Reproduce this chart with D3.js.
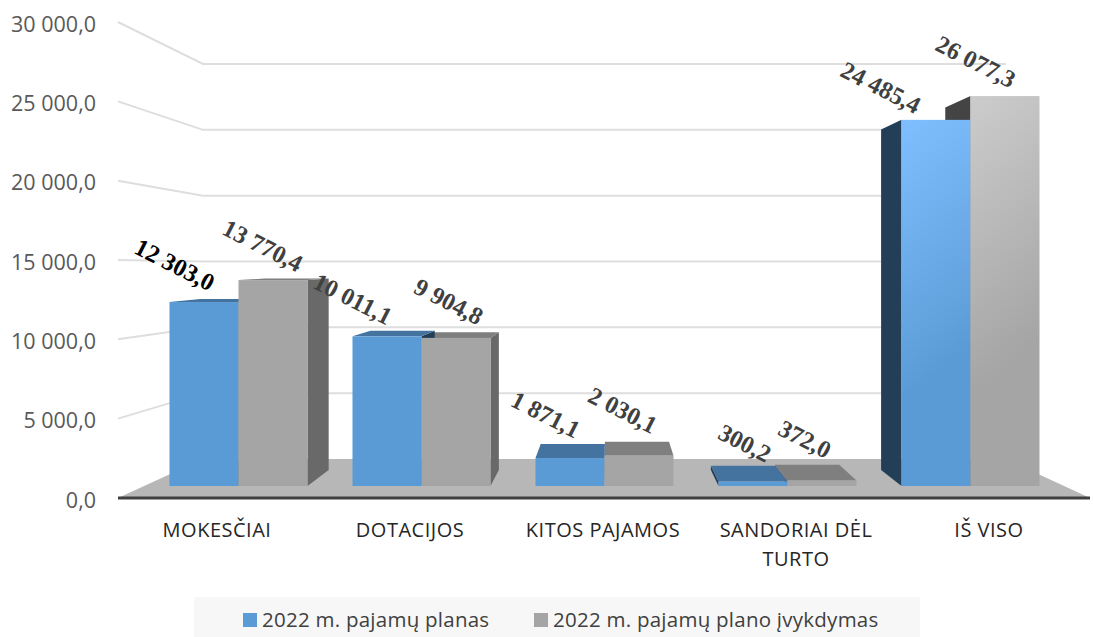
<!DOCTYPE html>
<html lang="en">
<head>
  <meta charset="UTF-8">
  <title>2022 m. pajamos</title>
  <script src="https://d3js.org/d3.v7.min.js"></script>
  <style>
    body { margin: 0; background: #fff; }
    svg { display: block; }
    text { font-family: "Open Sans", sans-serif; }
    .tick-label { font-size: 21.5px; fill: #595959; text-anchor: end; }
    .cat-label { font-size: 20px; letter-spacing: 0.5px; fill: #262626; text-anchor: middle; }
    .value-label { font-family: "Liberation Serif", serif; font-weight: bold; font-size: 24.5px; fill: #404040; text-anchor: middle; }
    .legend-label { font-size: 20.5px; letter-spacing: 0.25px; fill: #404040; }
  </style>
</head>
<body>
  <svg width="1094" height="637"></svg>

  <script>
    const categories = ["MOKESČIAI", "DOTACIJOS", "KITOS PAJAMOS", "SANDORIAI DĖL TURTO", "IŠ VISO"];
    const planValues = [12303.0, 10011.1, 1871.1, 300.2, 24485.4];
    const actualValues = [13770.4, 9904.8, 2030.1, 372.0, 26077.3];
    const planLabels = ["12 303,0", "10 011,1", "1 871,1", "300,2", "24 485,4"];
    const actualLabels = ["13 770,4", "9 904,8", "2 030,1", "372,0", "26 077,3"];
    const yTicks = [0, 5000, 10000, 15000, 20000, 25000, 30000];
    const yTickLabels = ["0,0", "5 000,0", "10 000,0", "15 000,0", "20 000,0", "25 000,0", "30 000,0"];
    const seriesNames = ["2022 m. pajamų planas", "2022 m. pajamų plano įvykdymas"];

    const svg = d3.select("svg");

    // three planes of the fake 3d box: front edge, bar faces, back wall
    const yFront = d3.scaleLinear().domain([0, 30000]).range([498, 22]);
    const yBar = d3.scaleLinear().domain([0, 30000]).range([486, 37.4]);
    const yBack = d3.scaleLinear().domain([0, 30000]).range([459, 64]);

    const xLabel = d3.scaleBand().domain(categories).range([120.5, 1085.5]);
    const xBar = d3.scaleBand().domain(categories).range([147, 1062]);
    const barW = 69;

    // bar depth: back face is the front face shrunk towards this point
    const vpX = 610, vpY = 258, depth = 0.93;
    const backPt = (x, y) => [vpX + depth * (x - vpX), vpY + depth * (y - vpY)];

    const defs = svg.append("defs");
    function gradient(id, from, to) {
      const g = defs.append("linearGradient").attr("id", id)
        .attr("x1", 0).attr("y1", 0).attr("x2", 0.15).attr("y2", 1);
      g.append("stop").attr("offset", "0%").attr("stop-color", from);
      g.append("stop").attr("offset", "75%").attr("stop-color", to);
    }
    gradient("blueHi", "#80bfff", "#5b9bd5");
    gradient("greyHi", "#cccccc", "#a5a5a5");

    // walls
    const wallL = 118, wallB = 203, wallR = 1006, floorR = 1090;
    const grid = svg.append("g").attr("fill", "none").attr("stroke", "#dedede").attr("stroke-width", 2);
    yTicks.filter(t => t > 0).forEach(t => {
      grid.append("path").attr("d", d3.line()([[wallL, yFront(t)], [wallB, yBack(t)], [wallR, yBack(t)]]));
    });

    svg.append("path")
      .attr("d", d3.line()([[wallL, yFront(0)], [wallB, yBack(0)], [wallR, yBack(0)], [floorR, yFront(0)]]) + "Z")
      .attr("fill", "#b7b7b7");
    svg.append("line")
      .attr("x1", wallL).attr("x2", floorR)
      .attr("y1", yFront(0)).attr("y2", yFront(0))
      .attr("stroke", "#404040").attr("stroke-width", 3);

    yTicks.forEach((t, i) => {
      svg.append("text").attr("class", "tick-label")
        .attr("x", 96).attr("y", yFront(t) + 9.5)
        .text(yTickLabels[i]);
    });

    const poly = (pts, fill) => svg.append("path").attr("d", d3.line()(pts) + "Z").attr("fill", fill);

    function drawDepth(x, value, topCol, sideCol) {
      const y = yBar(value), y0 = yBar(0), r = x + barW;
      if (r < vpX) poly([[r, y], [r, y0], backPt(r, y0), backPt(r, y)], sideCol);
      if (x > vpX) poly([[x, y], [x, y0], backPt(x, y0), backPt(x, y)], sideCol);
      if (y > vpY) poly([[x, y], [r, y], backPt(r, y), backPt(x, y)], topCol);
    }

    function drawFace(x, value, fill) {
      svg.append("rect")
        .attr("x", x).attr("y", yBar(value))
        .attr("width", barW).attr("height", yBar(0) - yBar(value))
        .attr("fill", fill);
    }

    categories.forEach((c, i) => {
      const mid = xBar(c) + xBar.bandwidth() / 2;
      const isTotal = c === "IŠ VISO";
      drawDepth(mid, actualValues[i], "#7f7f7f", isTotal ? "#444444" : "#696969");
      drawDepth(mid - barW, planValues[i], "#44739f", "#233f57");
      drawFace(mid - barW, planValues[i], isTotal ? "url(#blueHi)" : "#5b9bd5");
      drawFace(mid, actualValues[i], isTotal ? "url(#greyHi)" : "#a5a5a5");
    });

    // label placement relative to top centre of each bar
    const planNudge = [[-33, -37], [-38, -37], [-28, -43], [-12, -38], [-59, -32]];
    const actualNudge = [[-14, -34], [-11, -36], [-20, -45], [-21, -41], [-33, -34]];

    function valueLabel(text, cx, value, nudge, dark) {
      const lx = cx + nudge[0], ly = yBar(value) + nudge[1];
      svg.append("text").attr("class", "value-label")
        .attr("transform", `translate(${lx},${ly + 7}) rotate(27)`)
        .style("fill", dark ? "#000" : null)
        .text(text);
    }

    categories.forEach((c, i) => {
      const mid = xBar(c) + xBar.bandwidth() / 2;
      valueLabel(planLabels[i], mid - barW / 2, planValues[i], planNudge[i], i === 0);
      valueLabel(actualLabels[i], mid + barW / 2, actualValues[i], actualNudge[i], false);
    });

    // category labels, the long one wraps on two lines
    categories.forEach(c => {
      const cx = xLabel(c) + xLabel.bandwidth() / 2;
      const lines = c === "SANDORIAI DĖL TURTO" ? ["SANDORIAI DĖL", "TURTO"] : [c];
      lines.forEach((line, k) => {
        svg.append("text").attr("class", "cat-label")
          .attr("x", cx).attr("y", 537 + k * 29)
          .text(line);
      });
    });

    // legend
    svg.append("rect").attr("x", 194).attr("y", 597).attr("width", 726).attr("height", 40).attr("fill", "#f7f7f7");
    const legendColors = ["#5b9bd5", "#a5a5a5"];
    const legendX = [243, 534];
    seriesNames.forEach((name, i) => {
      svg.append("rect").attr("x", legendX[i]).attr("y", 613)
        .attr("width", 14).attr("height", 14).attr("fill", legendColors[i]);
      svg.append("text").attr("class", "legend-label")
        .attr("x", legendX[i] + 19).attr("y", 627)
        .text(name);
    });
  </script>
</body>
</html>
